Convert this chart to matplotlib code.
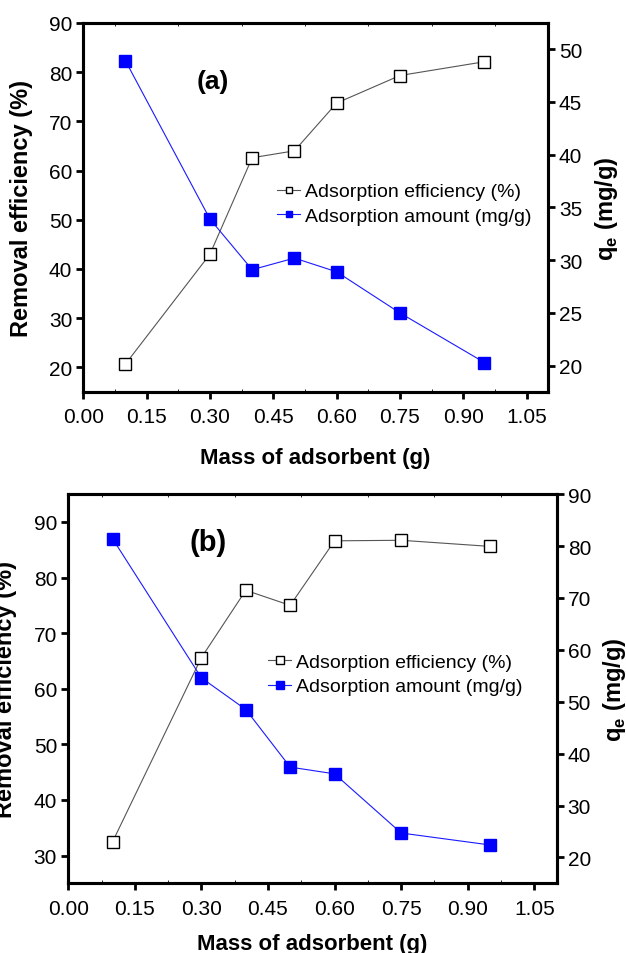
import matplotlib
matplotlib.use("Agg")
import matplotlib.pyplot as plt
from matplotlib.ticker import MultipleLocator

plt.rcParams["font.family"] = ["Liberation Sans", "DejaVu Sans"]
plt.rcParams["mathtext.fontset"] = "custom"
plt.rcParams["mathtext.rm"] = "Liberation Sans"
plt.rcParams["mathtext.bf"] = "Liberation Sans:bold"

# adsorbent mass (g)
mass = [0.10, 0.30, 0.40, 0.50, 0.60, 0.75, 0.95]

# panel (a)
eff_a = [20.7, 43.0, 62.6, 64.0, 73.7, 79.3, 82.1]
qe_a = [48.9, 33.9, 29.1, 30.2, 28.9, 25.0, 20.3]

# panel (b)
eff_b = [32.5, 65.6, 77.7, 75.0, 86.6, 86.7, 85.6]
qe_b = [81.4, 54.6, 48.5, 37.4, 36.1, 24.7, 22.4]

x_ticks = [0.00, 0.15, 0.30, 0.45, 0.60, 0.75, 0.90, 1.05]


def style_axis(ax, width=2.2):
    for sp in ax.spines.values():
        sp.set_linewidth(width)
    ax.tick_params(which="major", direction="out", length=5, width=2.0,
                   labelsize=15, pad=3)


def draw_panel(ax, eff, qe, tag, tag_size, ylim_l, yticks_l, ylim_r,
               yticks_r, ms, legend_anchor, tag_pos):
    style_axis(ax)
    l1, = ax.plot(mass, eff, color="#555555", lw=0.8, marker="s", ms=ms,
                  mfc="white", mec="black", mew=1.0,
                  label="Adsorption efficiency (%)")
    ax.set_xlim(0, 1.1)
    ax.set_xticks(x_ticks)
    ax.set_xticklabels([f"{t:.2f}" for t in x_ticks])
    ax.xaxis.set_minor_locator(MultipleLocator(0.075))
    ax.tick_params(axis="x", which="minor", direction="in", length=2,
                   width=0.6, top=True, bottom=True)
    ax.tick_params(axis="x", which="major", pad=6)
    ax.set_ylim(*ylim_l)
    ax.set_yticks(yticks_l)
    ax.set_xlabel("Mass of adsorbent (g)", fontsize=16, fontweight="bold")
    ax.set_ylabel("Removal efficiency (%)", fontsize=17, fontweight="bold")

    ax2 = ax.twinx()
    style_axis(ax2)
    l2, = ax2.plot(mass, qe, color="#1a1aff", lw=0.8, marker="s", ms=ms,
                   mfc="#0000ff", mec="#0000ff", mew=1.0,
                   label="Adsorption amount (mg/g)")
    ax2.set_ylim(*ylim_r)
    ax2.set_yticks(yticks_r)
    ax2.set_ylabel(r"q$_{\mathbf{e}}$ (mg/g)", fontsize=17,
                   fontweight="bold")

    ax.text(tag_pos[0], tag_pos[1], tag, transform=ax.transAxes,
            fontsize=tag_size, fontweight="bold", ha="left", va="center")

    ax2.legend(handles=[l1, l2], loc="center left",
               bbox_to_anchor=legend_anchor, frameon=False,
               fontsize=14, markerscale=0.55, handlelength=1.2,
               handletextpad=0.25, labelspacing=0.35, borderpad=0,
               borderaxespad=0)
    return ax2


fig = plt.figure(figsize=(6.26, 9.54), dpi=100)

ax_a = fig.add_axes([0.133, 0.588, 0.742, 0.387])
ax2_a = draw_panel(ax_a, eff_a, qe_a, "(a)", 19, (15, 90),
                   [20, 30, 40, 50, 60, 70, 80, 90], (17.5, 52.5),
                   [20, 25, 30, 35, 40, 45, 50], 8.5,
                   (0.417, 0.51), (0.245, 0.843))
ax_a.yaxis.set_label_coords(-0.108, 0.5)
ax2_a.yaxis.set_label_coords(1.097, 0.5)
ax_a.xaxis.labelpad = 15

ax_b = fig.add_axes([0.109, 0.073, 0.780, 0.408])
ax2_b = draw_panel(ax_b, eff_b, qe_b, "(b)", 21, (25, 95),
                   [30, 40, 50, 60, 70, 80, 90], (15, 90),
                   [20, 30, 40, 50, 60, 70, 80, 90], 9.3,
                   (0.409, 0.537), (0.249, 0.877))
ax_b.yaxis.set_label_coords(-0.105, 0.5)
ax2_b.yaxis.set_label_coords(1.092, 0.5)
ax_b.xaxis.labelpad = 11

fig.savefig("out.png", dpi=100)
